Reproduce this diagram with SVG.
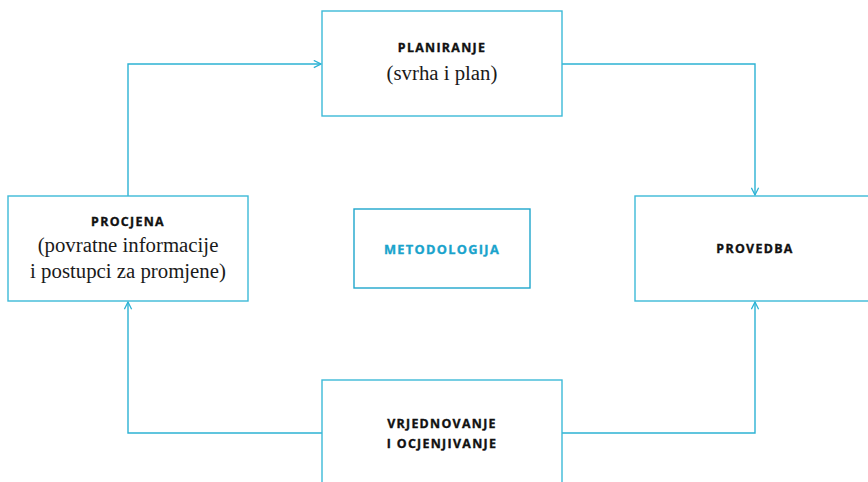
<svg xmlns="http://www.w3.org/2000/svg" width="868" height="482" viewBox="0 0 868 482">
  <style>
    .box { fill: #ffffff; stroke: #3dbad8; stroke-width: 1.4; }
    .box-accent { fill: #ffffff; stroke: #1ea6cc; stroke-width: 1.4; }
    .link { fill: none; stroke: #2cb2d4; stroke-width: 1.4; }
    .title { font-family: "Open Sans", "DejaVu Sans", sans-serif; font-weight: 700; font-size: 12.4px; letter-spacing: 1.3px; fill: #111111; stroke: #111111; stroke-width: 0.35; text-anchor: middle; }
    .title-accent { fill: #1aa3cc; stroke: #1aa3cc; font-size: 12.8px; }
    .sub { font-family: "Liberation Serif", "DejaVu Serif", serif; font-size: 20.8px; fill: #1a1a1a; text-anchor: middle; }
  </style>
  <defs>
    <marker id="open-arrow" viewBox="0 0 10 10" refX="9" refY="5" markerWidth="9" markerHeight="9" markerUnits="userSpaceOnUse" orient="auto">
      <path d="M1,1 L9,5 L1,9" fill="none" stroke="#2cb2d4" stroke-width="1.4"/>
    </marker>
  </defs>

  <rect width="868" height="482" fill="#ffffff"/>

  <g id="connectors">
    <path class="link" d="M128,196 V64 H321" marker-end="url(#open-arrow)"/>
    <path class="link" d="M562,64 H755 V195" marker-end="url(#open-arrow)"/>
    <path class="link" d="M322,433 H128 V302" marker-end="url(#open-arrow)"/>
    <path class="link" d="M562,433 H755 V302" marker-end="url(#open-arrow)"/>
  </g>

  <g id="planiranje">
    <rect class="box" x="322" y="11" width="240" height="105"/>
    <text class="title" x="442" y="52">PLANIRANJE</text>
    <text class="sub" x="442" y="80">(svrha i plan)</text>
  </g>

  <g id="procjena">
    <rect class="box" x="8" y="196" width="240" height="105"/>
    <text class="title" x="128" y="226">PROCJENA</text>
    <text class="sub" x="128" y="252">(povratne informacije</text>
    <text class="sub" x="128" y="278">i postupci za promjene)</text>
  </g>

  <g id="metodologija">
    <rect class="box-accent" x="354" y="209" width="176" height="79"/>
    <text class="title title-accent" x="442" y="254">METODOLOGIJA</text>
  </g>

  <g id="provedba">
    <rect class="box" x="635" y="196" width="240" height="105"/>
    <text class="title" x="755" y="253">PROVEDBA</text>
  </g>

  <g id="vrjednovanje">
    <rect class="box" x="322" y="380" width="240" height="110"/>
    <text class="title" x="442" y="428">VRJEDNOVANJE</text>
    <text class="title" x="442" y="448">I OCJENJIVANJE</text>
  </g>
</svg>
